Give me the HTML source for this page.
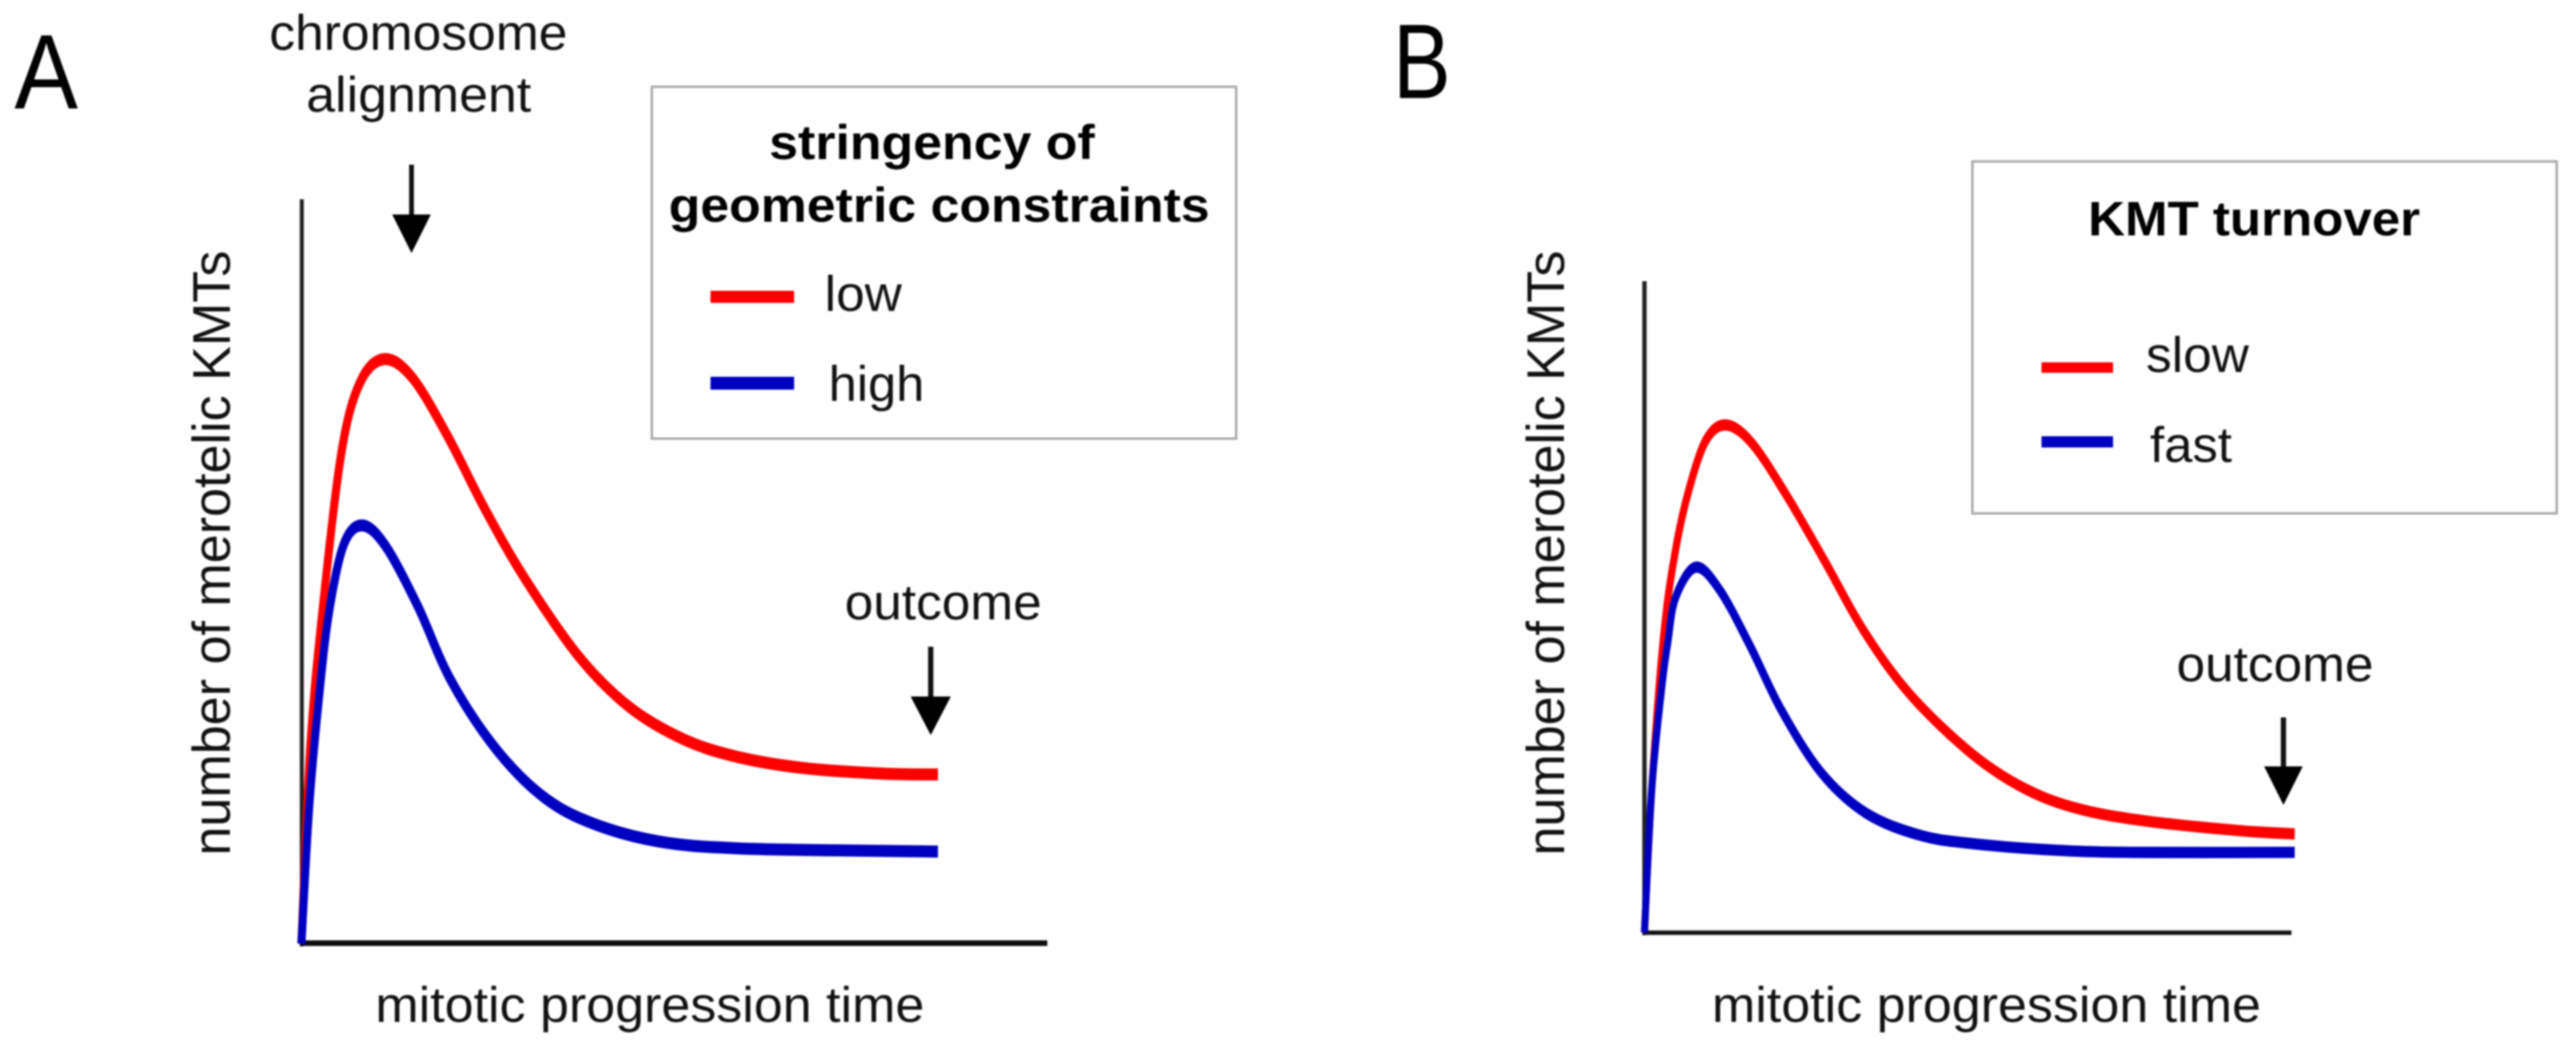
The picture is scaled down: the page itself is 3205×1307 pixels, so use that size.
<!DOCTYPE html>
<html lang="en">
<head>
<meta charset="utf-8">
<title>Merotelic KMTs over mitotic progression time</title>
<style>
html,body{margin:0;padding:0;background:#fff;width:3205px;height:1307px;overflow:hidden}
svg{display:block;filter:blur(1.1px)}
text{font-family:"Liberation Sans",sans-serif;fill:#111}
.lab{font-size:62px}
.ttl{font-size:60px;font-weight:700;fill:#000}
.ylab{font-size:66px}
.pan{font-size:132px;fill:#000}
</style>
</head>
<body>
<svg id="figure" xmlns="http://www.w3.org/2000/svg" width="3205" height="1307" viewBox="0 0 3205 1307">
  <rect width="3205" height="1307" fill="#fff"/>

  <g id="panel-a">
    <text class="pan" x="18" y="135" textLength="79" lengthAdjust="spacingAndGlyphs">A</text>
    <text class="lab" x="335" y="62" textLength="371" lengthAdjust="spacingAndGlyphs">chromosome</text>
    <text class="lab" x="381" y="139" textLength="280" lengthAdjust="spacingAndGlyphs">alignment</text>
    <g>
      <line x1="512" y1="205" x2="512" y2="270" stroke="#111" stroke-width="6"/>
      <polygon points="488,267 536,267 512,315" fill="#000"/>
    </g>
    <line x1="375.5" y1="248" x2="375.5" y2="1178" stroke="#222" stroke-width="5"/>
    <line x1="373" y1="1174" x2="1303" y2="1174" stroke="#0c0c0c" stroke-width="7"/>
    <text class="ylab" transform="translate(286,1065) rotate(-90)" textLength="753" lengthAdjust="spacingAndGlyphs">number of merotelic KMTs</text>
    <text class="lab" x="467" y="1272" textLength="683" lengthAdjust="spacingAndGlyphs">mitotic progression time</text>
    <g id="series-a"></g>
    <text class="lab" x="1051" y="771" textLength="245" lengthAdjust="spacingAndGlyphs">outcome</text>
    <g>
      <line x1="1158" y1="805" x2="1158" y2="870" stroke="#111" stroke-width="6.5"/>
      <polygon points="1133,867 1183,867 1158,915" fill="#000"/>
    </g>
    <g>
      <rect x="811" y="108" width="727" height="438" fill="#fff" stroke="#a8a8a8" stroke-width="3"/>
      <text class="ttl" x="957" y="198" textLength="405" lengthAdjust="spacingAndGlyphs">stringency of</text>
      <text class="ttl" x="832" y="276" textLength="673" lengthAdjust="spacingAndGlyphs">geometric constraints</text>
      <rect x="884" y="362" width="104" height="15" fill="#f00"/>
      <text class="lab" x="1026" y="387" textLength="96" lengthAdjust="spacingAndGlyphs">low</text>
      <rect x="884" y="469" width="104" height="16" fill="#0000c0"/>
      <text class="lab" x="1031" y="499" textLength="119" lengthAdjust="spacingAndGlyphs">high</text>
    </g>
  </g>

  <g id="panel-b">
    <text class="pan" x="1733" y="122" textLength="72" lengthAdjust="spacingAndGlyphs">B</text>
    <line x1="2046" y1="350" x2="2046" y2="1164" stroke="#222" stroke-width="5.5"/>
    <line x1="2044" y1="1161" x2="2851" y2="1161" stroke="#111" stroke-width="5.5"/>
    <text class="ylab" transform="translate(1946,1065) rotate(-90)" textLength="753" lengthAdjust="spacingAndGlyphs">number of merotelic KMTs</text>
    <text class="lab" x="2130" y="1272" textLength="683" lengthAdjust="spacingAndGlyphs">mitotic progression time</text>
    <g id="series-b"></g>
    <text class="lab" x="2708" y="848" textLength="245" lengthAdjust="spacingAndGlyphs">outcome</text>
    <g>
      <line x1="2841" y1="893" x2="2841" y2="957" stroke="#111" stroke-width="6.5"/>
      <polygon points="2817,954 2865,954 2841,1002" fill="#000"/>
    </g>
    <g>
      <rect x="2454" y="201" width="727" height="438" fill="#fff" stroke="#a8a8a8" stroke-width="3"/>
      <text class="ttl" x="2598" y="293" textLength="413" lengthAdjust="spacingAndGlyphs">KMT turnover</text>
      <rect x="2540" y="451" width="89" height="13" fill="#f00"/>
      <text class="lab" x="2670" y="463" textLength="128" lengthAdjust="spacingAndGlyphs">slow</text>
      <rect x="2540" y="543" width="89" height="14" fill="#0000c0"/>
      <text class="lab" x="2675" y="575" textLength="102" lengthAdjust="spacingAndGlyphs">fast</text>
    </g>
  </g>
</svg>

<script>
// Values: time and KMT count, both on a 0-100 axis range.
const timeALow = [0, 1.19, 2.91, 5.39, 7.87, 11.10, 14.87, 19.61, 24.57, 29.96, 37.18, 43.97, 51.19, 58.41, 67.35, 78.13, 85.34];
const countALow = [0, 26.43, 45.52, 66.13, 75.40, 78.53, 76.05, 68.18, 58.47, 49.08, 38.62, 31.82, 27.51, 25.13, 23.62, 22.87, 22.76];
const timeAHigh = [0, 1.08, 2.48, 3.77, 5.71, 8.19, 11.31, 15.63, 19.94, 25.65, 31.79, 38.25, 47.63, 58.41, 76.29, 85.34];
const countAHigh = [0, 18.88, 34.30, 44.98, 53.72, 56.20, 53.40, 45.31, 35.60, 26.75, 20.28, 16.50, 13.81, 12.84, 12.51, 12.41];
const timeBSlow = [0, 1.12, 2.98, 4.84, 6.96, 9.57, 12.67, 16.65, 21.99, 27.83, 34.04, 41.12, 50.56, 58.88, 67.20, 77.52, 92.05, 100.50];
const countBSlow = [0, 21.95, 45.75, 58.94, 68.31, 75.71, 77.93, 75.09, 67.08, 57.09, 46.12, 36.50, 27.50, 22.07, 18.99, 17.14, 15.66, 15.17];
const timeBFast = [0, 1.12, 2.61, 3.60, 4.84, 7.95, 11.68, 16.27, 21.24, 27.45, 34.41, 42.73, 50.56, 62.98, 75.40, 100.50];
const countBFast = [0, 21.95, 37.11, 44.51, 51.54, 56.10, 52.53, 44.14, 34.03, 24.41, 18.25, 14.92, 13.69, 12.70, 12.33, 12.33];

const SVG_NS = 'http://www.w3.org/2000/svg';

function xAxisA(t) { return 375 + t * 9.28; }
function yAxisA(v) { return 1175 - v * 9.27; }
function xAxisB(t) { return 2046 + t * 8.05; }
function yAxisB(v) { return 1161 - v * 8.11; }

function smoothPath(xs, ys, xScale, yScale, squash) {
  const p = xs.map(function (t, i) { return [xScale(t), yScale(ys[i]) / squash]; });
  let d = 'M' + p[0][0] + ' ' + p[0][1];
  for (let i = 0; i < p.length - 1; i++) {
    const a = p[Math.max(i - 1, 0)], b = p[i], c = p[i + 1], e = p[Math.min(i + 2, p.length - 1)];
    const c1x = b[0] + (c[0] - a[0]) / 6, c1y = b[1] + (c[1] - a[1]) / 6;
    const c2x = c[0] - (e[0] - b[0]) / 6, c2y = c[1] - (e[1] - b[1]) / 6;
    d += 'C' + c1x + ' ' + c1y + ' ' + c2x + ' ' + c2y + ' ' + c[0] + ' ' + c[1];
  }
  return d;
}

// The source image is stretched vertically, so strokes are drawn in a squashed
// coordinate system to get the thicker horizontal runs.
function addCurve(parentId, name, xs, ys, xScale, yScale, color, width, squash) {
  const g = document.createElementNS(SVG_NS, 'g');
  g.setAttribute('transform', 'scale(1,' + squash + ')');
  const el = document.createElementNS(SVG_NS, 'path');
  
  
  el.setAttribute('d', smoothPath(xs, ys, xScale, yScale, squash));
  el.setAttribute('fill', 'none');
  el.setAttribute('stroke', color);
  el.setAttribute('stroke-width', width);
  el.setAttribute('stroke-linejoin', 'round');
  g.appendChild(el);
  document.getElementById(parentId).appendChild(g);
}

addCurve('series-a', 'curve-low-stringency', timeALow, countALow, xAxisA, yAxisA, '#f00', 10, 1.5);
addCurve('series-a', 'curve-high-stringency', timeAHigh, countAHigh, xAxisA, yAxisA, '#0000c0', 10, 1.5);
addCurve('series-b', 'curve-slow-turnover', timeBSlow, countBSlow, xAxisB, yAxisB, '#f00', 8.8, 1.6);
addCurve('series-b', 'curve-fast-turnover', timeBFast, countBFast, xAxisB, yAxisB, '#0000c0', 8.8, 1.6);
</script>
</body>
</html>
